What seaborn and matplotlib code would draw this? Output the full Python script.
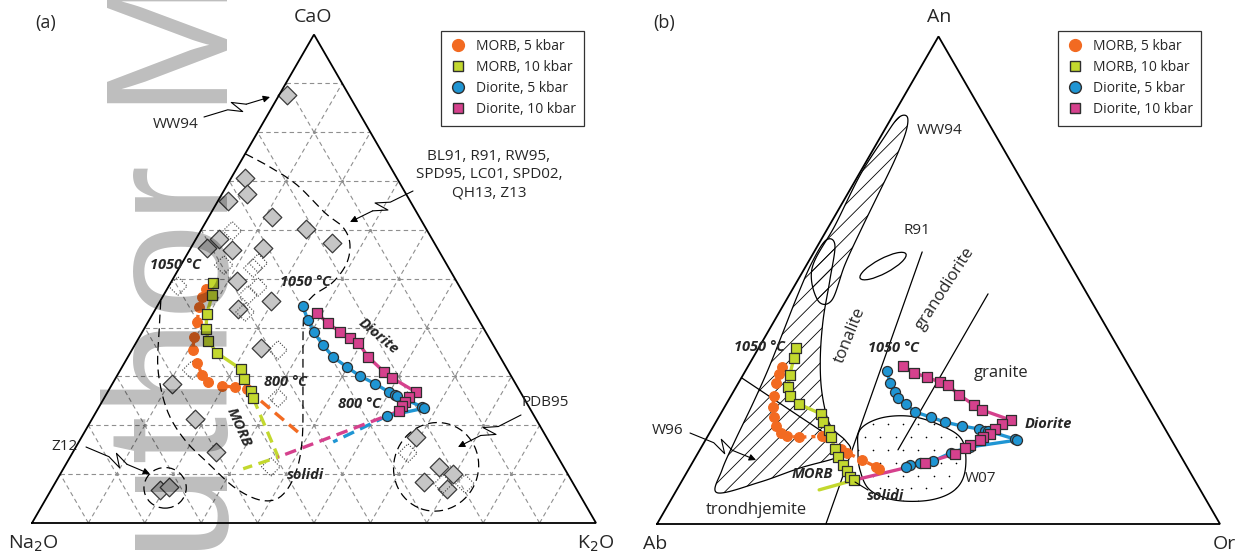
import numpy as np
import pandas as pd
import matplotlib
matplotlib.use("Agg")
import matplotlib.pyplot as plt
from matplotlib.patches import Polygon, Ellipse
from matplotlib.lines import Line2D
import seaborn as sns

sns.set_theme(style="white")
plt.rcParams["font.family"] = ["Open Sans", "DejaVu Sans"]
plt.rcParams["hatch.linewidth"] = 0.6

# ---------------- panel (a): CaO - Na2O - K2O (wt%, normalised) ----------------
morb5_a_cao = [47.9, 46.3, 44.2, 41.2, 38.1, 35.4, 32.8, 30.3, 28.9, 28.1, 27.8, 27.4]
morb5_a_k2o = [6.9, 7.0, 7.5, 8.7, 9.7, 10.8, 12.9, 15.0, 16.8, 19.6, 22.1, 24.4]
morb5_a_sol_cao = [17.8]
morb5_a_sol_k2o = [39.1]

morb10_a_cao = [49.1, 46.7, 42.8, 39.7, 37.3, 34.8, 31.5, 29.5, 27.0, 25.6]
morb10_a_k2o = [7.5, 8.6, 9.6, 11.0, 12.6, 15.4, 21.3, 22.8, 25.3, 26.4]
morb10_a_sol_cao = [13.5, 11.1]
morb10_a_sol_k2o = [36.9, 31.9]

dio5_a_cao = [44.4, 41.6, 39.1, 36.4, 34.0, 31.9, 30.1, 28.5, 26.8, 26.2, 26.0, 23.8, 23.5, 21.9]
dio5_a_k2o = [25.8, 28.1, 30.4, 33.4, 36.4, 39.9, 43.1, 46.6, 49.9, 51.3, 51.7, 57.3, 57.8, 52.0]
dio5_a_sol_cao = [16.6]
dio5_a_sol_k2o = [45.1]

dio10_a_cao = [43.0, 40.9, 39.1, 37.9, 36.9, 34.0, 30.9, 29.7, 26.8, 25.8, 24.8, 24.0, 22.9]
dio10_a_k2o = [29.0, 32.0, 35.1, 37.4, 39.4, 42.6, 47.0, 49.0, 54.7, 53.9, 53.7, 53.6, 53.6]
dio10_a_sol_cao = [13.5]
dio10_a_sol_k2o = [36.9]

# literature experimental melts (filled) and other analyses (dotted)
lit_cao = [87.6, 70.6, 67.4, 65.9, 62.7, 60.2, 57.3, 58.1, 56.3, 55.9, 56.3, 49.5, 45.5,
           43.8, 35.8, 28.5, 21.3, 14.5, 6.8, 7.4, 17.6, 11.5, 10.0, 8.4, 7.0]
lit_k2o = [1.4, 2.5, 4.4, 1.8, 11.2, 18.5, 24.5, 4.1, 2.9, 7.5, 12.8, 11.6, 19.6,
           14.6, 22.7, 10.6, 18.3, 25.4, 19.3, 20.6, 59.3, 66.4, 69.6, 65.3, 70.1]
open_cao = [59.8, 52.8, 53.2, 52.2, 48.5, 46.7, 48.3, 43.2, 35.4, 31.3, 25.6, 11.5, 14.3, 8.0, 8.0]
open_k2o = [5.6, 7.6, 13.5, 13.1, 1.6, 15.0, 15.9, 16.2, 25.9, 12.7, 30.8, 36.6, 59.5, 68.9, 72.8]

# dashed outline of the literature field
field_a_cao = [75.6, 72.9, 69.2, 63.5, 60.6, 57.3, 53.2, 49.3, 46.3, 42.6, 29.3, 17.0, 9.8,
               5.3, 4.7, 7.2, 11.9, 17.0, 23.1, 31.3, 39.5, 45.7]
field_a_k2o = [0.0, 5.7, 12.4, 20.2, 24.8, 27.7, 29.2, 28.7, 26.5, 26.9, 33.4, 39.4, 41.7,
               41.3, 38.1, 32.4, 25.6, 18.6, 12.4, 6.7, 2.8, 0.0]
z12_center = (7.2, 20.0)      # (CaO, K2O)
pdb95_center = (11.5, 65.9)   # (CaO, K2O)

# ---------------- panel (b): An - Ab - Or (normative, %) ----------------
morb5_b_an = [32.2, 30.8, 28.9, 26.3, 24.0, 21.9, 20.1, 18.7, 18.0, 17.8, 18.0, 17.8, 15.4, 14.6, 13.1, 11.7, 11.3]
morb5_b_or = [6.1, 6.3, 6.7, 7.6, 8.6, 9.8, 11.1, 12.7, 14.1, 16.3, 20.3, 21.3, 25.0, 26.5, 29.9, 33.1, 33.8]

morb10_b_an = [36.1, 34.0, 30.6, 28.1, 26.3, 24.6, 22.6, 20.9, 19.3, 17.8, 15.4, 13.7, 12.1, 10.9, 9.6, 9.0]
morb10_b_or = [6.6, 7.3, 8.3, 9.2, 10.5, 12.9, 17.8, 19.0, 20.9, 22.0, 23.9, 25.3, 27.0, 28.3, 29.5, 30.5]
morb10_b_sol_an = [7.0]
morb10_b_sol_or = [25.3]

dio5_b_an = [31.4, 28.9, 27.1, 25.8, 24.6, 23.0, 21.9, 20.9, 20.1, 19.5, 19.1, 19.1, 17.4, 17.2,
             15.8, 14.6, 12.9, 12.5, 12.1, 11.7]
dio5_b_or = [25.2, 26.9, 28.7, 29.9, 31.9, 34.3, 37.7, 40.7, 44.1, 47.4, 48.7, 49.2, 54.9, 55.3,
             47.7, 44.9, 42.6, 40.5, 38.9, 38.4]

dio10_b_an = [32.4, 31.0, 30.1, 29.1, 28.5, 26.5, 24.4, 23.4, 21.3, 20.5, 19.5, 18.5, 17.8, 17.2,
              16.2, 15.6, 14.4, 12.5]
dio10_b_or = [27.5, 30.2, 32.9, 35.7, 37.4, 40.4, 44.1, 46.0, 52.2, 51.0, 50.3, 49.9, 49.0, 48.8,
              47.5, 46.9, 45.7, 41.4]
dio10_b_sol_an = [9.0]
dio10_b_sol_or = [30.5]

# granitoid classification boundaries (An, Or) end points
class_lines_b = [
    ([30.0, 17.6], [0.0, 22.3]),
    ([0.0, 55.8], [30.0, 19.2]),
    ([15.2, 47.2], [35.2, 35.2]),
]
# literature fields
w96_an = [6.4, 11.1, 17.2, 24.4, 31.6, 38.8, 47.0, 53.7, 58.2, 57.2, 50.0, 41.8, 33.6, 26.5,
          20.3, 17.2, 15.2, 13.5, 11.5, 8.6]
w96_or = [7.5, 6.0, 5.3, 4.7, 3.9, 2.8, 1.5, 0.7, 0.9, 3.0, 5.7, 8.6, 12.2, 16.1,
          20.6, 24.8, 26.7, 24.9, 19.7, 14.0]
ww94_an = [52.5, 61.3, 71.6, 79.2, 83.3, 83.5, 80.4, 74.7, 67.5, 59.9, 53.1, 45.9, 45.9]
ww94_or = [1.3, 1.0, 0.3, 0.7, 1.2, 2.7, 4.0, 4.9, 5.5, 6.1, 6.8, 8.1, 5.6]
w07_an = [19.3, 21.7, 22.1, 20.3, 17.2, 11.1, 7.0, 4.9, 4.9, 7.0, 11.1, 15.2]
w07_or = [26.4, 28.8, 33.9, 40.1, 45.6, 49.2, 49.4, 46.0, 39.8, 34.3, 30.5, 28.1]
r91_center = (52.9, 13.7)     # (An, Or)

ORANGE = "#f26a21"
LIME = "#c3d82e"
BLUE = "#1f95d3"
MAGENTA = "#d5418d"
EDGE = "#2e2e2e"

W, H = 1247.0, 558.0
S3 = np.sqrt(3) / 2

fig = plt.figure(figsize=(W / 100, H / 100), dpi=100)


def fig_xy(px, py):
    return px / W, 1 - py / H


def tri_axes(left_frac, corner, side):
    ax = fig.add_axes([left_frac, 0, 0.5, 1])
    x0 = left_frac * W
    x1 = x0 + 0.5 * W
    cx, cy = corner
    ax.set_xlim((x0 - cx) / side, (x1 - cx) / side)
    ax.set_ylim((cy - H) / side, cy / side)
    ax.set_axis_off()
    return ax


def tern_xy(top, right):
    top = np.asarray(top, float) / 100
    right = np.asarray(right, float) / 100
    return right + top / 2, top * S3


def catmull(P, closed, n=14):
    P = np.asarray(P, float)
    m = len(P)
    out = []
    rng = range(m) if closed else range(m - 1)
    for i in rng:
        p1, p2 = P[i], P[(i + 1) % m]
        p0 = P[i - 1] if (closed or i > 0) else P[i]
        p3 = P[(i + 2) % m] if (closed or i + 2 < m) else P[(i + 1) % m]
        t = np.linspace(0, 1, n, endpoint=False)[:, None]
        out.append(0.5 * (2 * p1 + (-p0 + p2) * t + (2 * p0 - 5 * p1 + 4 * p2 - p3) * t ** 2
                          + (-p0 + 3 * p1 - 3 * p2 + p3) * t ** 3))
    out = np.vstack(out)
    end = out[:1] if closed else P[-1:]
    return np.vstack([out, end])


def series(ax, top, right, color, marker, size, edge, ls, lw=2.4, z=4):
    x, y = tern_xy(top, right)
    df = pd.DataFrame({"x": x, "y": y})
    sns.lineplot(data=df, x="x", y="y", sort=False, estimator=None, color=color, lw=lw,
                 linestyle=ls, ax=ax, zorder=z, legend=False)
    sns.scatterplot(data=df, x="x", y="y", marker=marker, s=size, color=color,
                    edgecolor=edge, linewidth=0.9, ax=ax, zorder=z + 1, legend=False)


def link(ax, top, right, color, ls, lw=2.4, z=3):
    x, y = tern_xy(top, right)
    df = pd.DataFrame({"x": x, "y": y})
    sns.lineplot(data=df, x="x", y="y", sort=False, estimator=None, color=color, lw=lw,
                 linestyle=ls, ax=ax, zorder=z, legend=False)


def triangle(ax):
    x, y = tern_xy([0, 0, 100, 0], [0, 100, 0, 0])
    ax.plot(x, y, color="black", lw=1.3, zorder=6, solid_joinstyle="miter")


def legend(ax, px, py):
    handles = [
        Line2D([], [], ls="none", marker="o", ms=8.5, mfc=ORANGE, mec=ORANGE, label="MORB, 5 kbar"),
        Line2D([], [], ls="none", marker="s", ms=7.5, mfc=LIME, mec=EDGE, label="MORB, 10 kbar"),
        Line2D([], [], ls="none", marker="o", ms=8.5, mfc=BLUE, mec=EDGE, label="Diorite, 5 kbar"),
        Line2D([], [], ls="none", marker="s", ms=7.5, mfc=MAGENTA, mec=EDGE, label="Diorite, 10 kbar"),
    ]
    leg = ax.legend(handles=handles, loc="upper left", bbox_to_anchor=fig_xy(px, py),
                    bbox_transform=fig.transFigure, frameon=True, fancybox=False,
                    edgecolor="black", fontsize=10, handletextpad=0.6, labelspacing=0.43,
                    borderpad=0.6, handlelength=1.3, borderaxespad=0)
    leg.get_frame().set_linewidth(0.9)
    leg.set_zorder(12)


def squiggle(ax, p0, p1, amp=6):
    p0 = np.array(p0, float)
    p1 = np.array(p1, float)
    d = p1 - p0
    nrm = np.array([-d[1], d[0]]) / np.hypot(*d)
    pts = [p0, p0 + 0.36 * d, p0 + 0.56 * d + amp * nrm, p0 + 0.44 * d - amp * nrm, p0 + 0.64 * d]
    xs, ys = zip(*[fig_xy(*p) for p in pts])
    fig.add_artist(Line2D(xs, ys, color="black", lw=0.8, transform=fig.transFigure, zorder=9))
    ax.annotate("", xy=fig_xy(*p1), xytext=fig_xy(*pts[-1]), xycoords="figure fraction",
                textcoords="figure fraction",
                arrowprops=dict(arrowstyle="-|>", color="black", lw=0.8, mutation_scale=10,
                                shrinkA=0, shrinkB=0), zorder=9)


def label(px, py, s, size=11, **kw):
    fig.text(*fig_xy(px, py), s, fontsize=size, ha="center", va="center", zorder=11, **kw)


def bold_label(px, py, s, rot=0):
    fig.text(*fig_xy(px, py), s, fontsize=10.5, ha="center", va="center", fontweight="bold",
             style="italic", rotation=rot, rotation_mode="anchor", zorder=11)


def stipple(ax, patch, step=0.027):
    # regular staggered dot texture clipped to a field outline
    x0, y0, x1, y1 = *patch.get_path().vertices.min(0), *patch.get_path().vertices.max(0)
    pts = []
    for r, yy in enumerate(np.arange(y0, y1, step * 0.85)):
        off = (step / 2) * (r % 2)
        pts += [(xx, yy) for xx in np.arange(x0 + off, x1, step)]
    pts = np.array(pts)
    dots = ax.scatter(pts[:, 0], pts[:, 1], s=1.4, color="black", lw=0, zorder=2)
    dots.set_clip_path(patch)


axA = tri_axes(0.0, (32, 523), 564)
axB = tri_axes(0.5, (657, 524), 563)

# ---------------- panel (a) ----------------
grid_kw = dict(color="#8f8f8f", lw=0.8, dashes=(4, 3), zorder=1)
for k in range(10, 100, 10):
    for top, right in (([k, k], [0, 100 - k]), ([0, 100 - k], [k, k]), ([0, 100 - k], [100 - k, 0])):
        gx, gy = tern_xy(top, right)
        axA.plot(gx, gy, **grid_kw)
node_top, node_right = zip(*[(i, j) for i in range(10, 90, 10) for j in range(10, 100 - i, 10)])
nx, ny = tern_xy(node_top, node_right)
axA.scatter(nx, ny, s=5, color="#8f8f8f", zorder=1, lw=0)
triangle(axA)

fx, fy = tern_xy(field_a_cao, field_a_k2o)
curve = catmull(np.column_stack([fx, fy]), closed=False)
axA.plot(curve[:, 0], curve[:, 1], color="black", lw=0.9, dashes=(7, 4), zorder=2)
for cen, (w, h, ang) in ((z12_center, (0.075, 0.072, 0)), (pdb95_center, (0.150, 0.158, -20))):
    cx, cy = tern_xy(*cen)
    axA.add_patch(Ellipse((cx, cy), w, h, angle=ang, fill=False, ec="black", lw=0.9,
                          ls=(0, (7, 4)), zorder=2))

lx, ly = tern_xy(lit_cao, lit_k2o)
sns.scatterplot(x=lx, y=ly, marker="D", s=90, color="#c6c6c6", edgecolor="#3a3a3a",
                linewidth=0.9, ax=axA, zorder=2, legend=False)
ox, oy = tern_xy(open_cao, open_k2o)
axA.scatter(ox, oy, marker="D", s=90, facecolor="none", edgecolor="#3a3a3a", linewidth=0.8,
            linestyle=(0, (1, 1.5)), zorder=2)

dash_ext = (0, (3.5, 2))
link(axA, [morb5_a_cao[-1]] + morb5_a_sol_cao, [morb5_a_k2o[-1]] + morb5_a_sol_k2o, ORANGE, dash_ext)
link(axA, [morb10_a_cao[-1]] + morb10_a_sol_cao, [morb10_a_k2o[-1]] + morb10_a_sol_k2o, LIME, dash_ext)
link(axA, [dio5_a_cao[-1]] + dio5_a_sol_cao, [dio5_a_k2o[-1]] + dio5_a_sol_k2o, BLUE, dash_ext)
link(axA, [dio10_a_cao[-1]] + dio10_a_sol_cao, [dio10_a_k2o[-1]] + dio10_a_sol_k2o, MAGENTA, dash_ext)

series(axA, morb5_a_cao, morb5_a_k2o, ORANGE, "o", 48, ORANGE, (0, (4, 1.5, 1.2, 1.5)))
series(axA, morb10_a_cao, morb10_a_k2o, LIME, "s", 52, EDGE, "-")
series(axA, dio5_a_cao, dio5_a_k2o, BLUE, "o", 52, EDGE, "-")
series(axA, dio10_a_cao, dio10_a_k2o, MAGENTA, "s", 52, EDGE, "-")
legend(axA, 441, 31)

label(46, 23, "(a)", 13)
label(313, 17, "CaO", 14)
label(33, 544, "Na$_2$O", 14)
label(596, 544, "K$_2$O", 14)
label(176, 125, "WW94")
label(489, 175, "BL91, R91, RW95,\nSPD95, LC01, SPD02,\nQH13, Z13", linespacing=1.3)
label(65, 446, "Z12")
label(545, 402, "PDB95")
squiggle(axA, (204, 117), (270, 97))
squiggle(axA, (413, 191), (350, 222))
squiggle(axA, (86, 447), (150, 474))
squiggle(axA, (521, 415), (458, 447))
bold_label(175, 265, "1050 °C")
bold_label(306, 282, "1050 °C")
bold_label(285, 382, "800 °C")
bold_label(359, 404, "800 °C")
bold_label(378, 336, "Diorite", -40)
bold_label(239, 427, "MORB", -66)
bold_label(305, 475, "solidi")

# ---------------- panel (b) ----------------
triangle(axB)
for an, orr in class_lines_b:
    cx, cy = tern_xy(an, orr)
    axB.plot(cx, cy, color="black", lw=0.9, zorder=2)

wx, wy = tern_xy(w96_an, w96_or)
outline = catmull(np.column_stack([wx, wy]), closed=True)
axB.add_patch(Polygon(outline, closed=True, fill=False, ec="black", lw=0.9, hatch="//", zorder=2))
wx, wy = tern_xy(ww94_an, ww94_or)
outline = catmull(np.column_stack([wx, wy]), closed=True)
axB.add_patch(Polygon(outline, closed=True, fill=False, ec="black", lw=0.9, hatch="//", zorder=2))
wx, wy = tern_xy(w07_an, w07_or)
outline = catmull(np.column_stack([wx, wy]), closed=True)
w07_patch = Polygon(outline, closed=True, fill=False, ec="black", lw=0.9, zorder=2)
axB.add_patch(w07_patch)
stipple(axB, w07_patch)
rx, ry = tern_xy(*r91_center)
axB.add_patch(Ellipse((rx, ry), 0.092, 0.026, angle=28, fill=False, ec="black", lw=0.9, zorder=2))

link(axB, [morb10_b_an[-1]] + morb10_b_sol_an, [morb10_b_or[-1]] + morb10_b_sol_or, LIME, "-")
link(axB, [dio10_b_an[-1]] + dio10_b_sol_an, [dio10_b_or[-1]] + dio10_b_sol_or, MAGENTA, "-")
series(axB, morb5_b_an, morb5_b_or, ORANGE, "o", 48, ORANGE, (0, (4, 1.5, 1.2, 1.5)))
series(axB, morb10_b_an, morb10_b_or, LIME, "s", 52, EDGE, "-")
series(axB, dio5_b_an, dio5_b_or, BLUE, "o", 52, EDGE, "-")
series(axB, dio10_b_an, dio10_b_or, MAGENTA, "s", 52, EDGE, "-")
legend(axB, 1058, 31)

label(664, 23, "(b)", 13)
label(939, 17, "An", 14)
label(655, 544, "Ab", 14)
label(1224, 544, "Or", 14)
label(940, 130, "WW94")
label(917, 230, "R91")
label(668, 430, "W96")
label(981, 479, "W07")
label(1001, 373, "granite", 12)
label(756, 510, "trondhjemite", 12)
fig.text(*fig_xy(850, 335), "tonalite", fontsize=12, ha="center", va="center", rotation=68,
         rotation_mode="anchor", zorder=11)
fig.text(*fig_xy(945, 289), "granodiorite", fontsize=12, ha="center", va="center", rotation=57,
         rotation_mode="anchor", zorder=11)
squiggle(axB, (690, 433), (756, 460))
fig.add_artist(Line2D([868 / W, 855 / W], [1 - 490 / H, 1 - 482 / H], color="black", lw=0.8,
                      transform=fig.transFigure, zorder=9))
bold_label(760, 347, "1050 °C")
bold_label(893, 348, "1050 °C")
bold_label(1048, 424, "Diorite")
bold_label(812, 474, "MORB")
bold_label(885, 496, "solidi")

# watermark
fig.text(*fig_xy(228, 676), "Author Manuscript", rotation=90, rotation_mode="anchor",
         ha="left", va="baseline", fontsize=125, family="Liberation Sans", color="black",
         alpha=0.26, zorder=20)

fig.savefig("out.png", dpi=100)
